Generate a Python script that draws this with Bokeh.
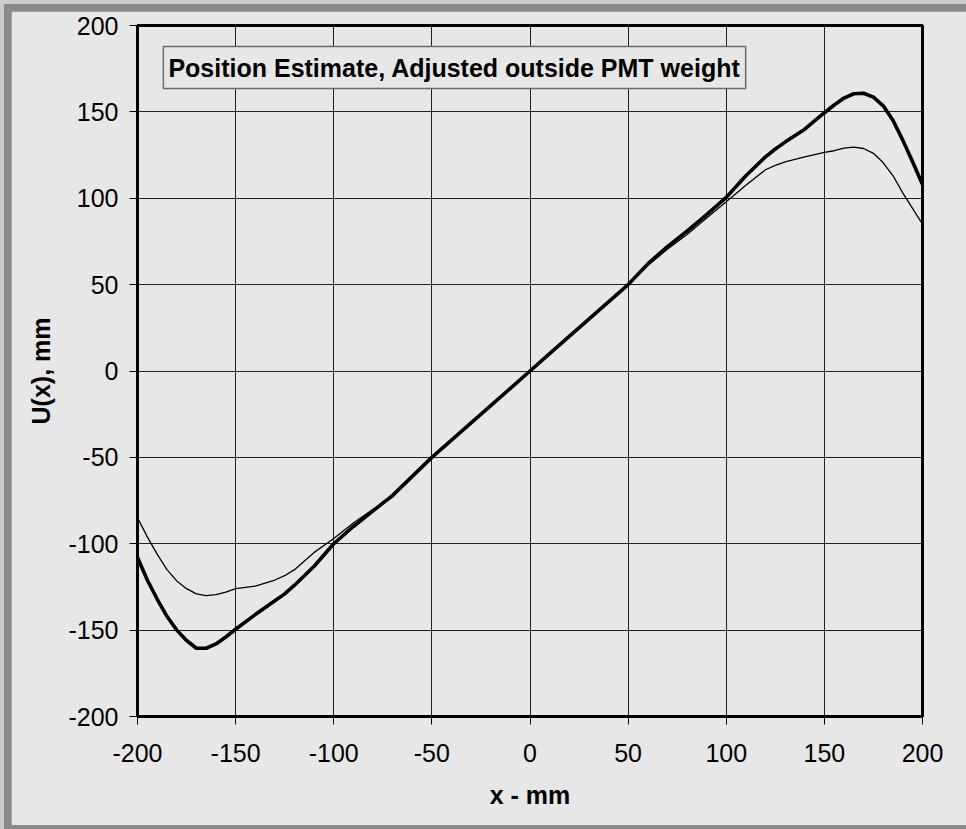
from bokeh.plotting import figure
from bokeh.models import Label, FixedTicker, Range1d, ColumnDataSource
from bokeh.layouts import column
from bokeh.embed import file_html
from bokeh.resources import INLINE

# ---- data ----
x_mm = [-200, -195, -190, -185, -180, -175, -170, -165, -160, -155, -150, -140, -130, -125,
        -120, -110, -100, -90, -80, -70, -60, -50, -40, -30, -20, -10, 0, 10, 20, 30, 40, 50,
        60, 70, 80, 90, 100, 110, 120, 125, 130, 140, 150, 155, 160, 165, 170, 175, 180, 185,
        190, 195, 200]

u_adjusted = [-108, -121, -132, -142, -150, -156, -160.5, -160.5, -158, -154, -149.5, -141, -133, -129,
              -124, -113, -100, -90, -81, -72, -61, -50, -40, -30, -20, -10, 0, 10, 20, 30, 40, 50,
              62, 72, 81, 90.5, 100.5, 113, 124, 128.5, 132.5, 140, 149.5, 154, 158, 160.5, 160.8, 158.5, 153.5, 145,
              133.5, 121, 108]

u_original = [-85, -96, -106, -115, -121.5, -126, -129, -130, -129.5, -128, -126, -124.5, -121, -118.5,
              -115, -105, -97, -88, -80, -73, -61, -50, -40, -30, -20, -10, 0, 10, 20, 30, 40, 50,
              61, 70.5, 79, 88.5, 98, 107.5, 116.5, 119, 121, 124, 126.5, 127.5, 129, 129.6, 128.8, 126, 120.5, 113,
              103, 94, 85]

x_ticks = [-200, -150, -100, -50, 0, 50, 100, 150, 200]
y_ticks = [-200, -150, -100, -50, 0, 50, 100, 150, 200]
x_tick_labels = ["-200", "-150", "-100", "-50", "0", "50", "100", "150", "200"]
y_tick_labels = ["-200", "-150", "-100", "-50", "0", "50", "100", "150", "200"]

title_text = "Position Estimate, Adjusted outside PMT weight"
x_label = "x - mm"
y_label = "U(x), mm"

# ---- styling ----
BG = "#e7e7e7"
FONT = "Liberation Sans"

p = figure(width=955, height=814,
           x_range=Range1d(-200, 200), y_range=Range1d(-200, 200),
           output_backend="svg", toolbar_location=None,
           min_border_left=126, min_border_right=44,
           min_border_top=14, min_border_bottom=109)
p.background_fill_color = BG
p.border_fill_color = BG
p.outline_line_color = "black"
p.outline_line_width = 3

src = ColumnDataSource(dict(x=x_mm, a=u_adjusted, o=u_original))
p.line("x", "o", source=src, line_color="black", line_width=1.3, line_join="round")
p.line("x", "a", source=src, line_color="black", line_width=3.6, line_join="round")

p.xaxis.ticker = FixedTicker(ticks=x_ticks)
p.yaxis.ticker = FixedTicker(ticks=y_ticks)
p.xaxis.major_label_overrides = dict(zip(x_ticks, x_tick_labels))
p.yaxis.major_label_overrides = dict(zip(y_ticks, y_tick_labels))
for g in (p.xgrid, p.ygrid):
    g.grid_line_color = "#202020"
    g.grid_line_width = 1
    g.grid_line_alpha = 1

for ax in (p.xaxis[0], p.yaxis[0]):
    ax.axis_line_width = 3
    ax.axis_line_color = "black"
    ax.major_tick_out = 8
    ax.major_tick_in = 0
    ax.major_tick_line_color = "black"
    ax.major_tick_line_width = 1
    ax.minor_tick_line_color = None
    ax.major_label_text_font = FONT
    ax.major_label_text_font_size = "25px"
    ax.major_label_text_color = "black"
    ax.axis_label_text_font = FONT
    ax.axis_label_text_font_size = "25px"
    ax.axis_label_text_font_style = "bold"
    ax.axis_label_text_color = "black"

p.xaxis.axis_label = x_label
p.yaxis.axis_label = y_label
p.xaxis.major_label_standoff = 19
p.yaxis.major_label_standoff = 11
p.xaxis.axis_label_standoff = 16
p.yaxis.axis_label_standoff = 10

lbl = Label(x=-186.8, y=187.8, x_units="data", y_units="data", anchor="top_left",
            text=title_text, text_font=FONT, text_font_size="25px", text_font_style="bold",
            text_color="black",
            border_line_color="#6a6a6a", border_line_width=1.5,
            background_fill_color=BG,
            padding=dict(left=5, right=5, top=7, bottom=7))
p.add_layout(lbl)

p.margin = (7, 0, 4, 7)
inner = column(p, styles={"background-color": "#8a8a8a"}, margin=(4, 0, 0, 4))
outer = column(inner, styles={"background-color": "#c9cdd1"})

open("out.html", "w").write(file_html(outer, INLINE))
